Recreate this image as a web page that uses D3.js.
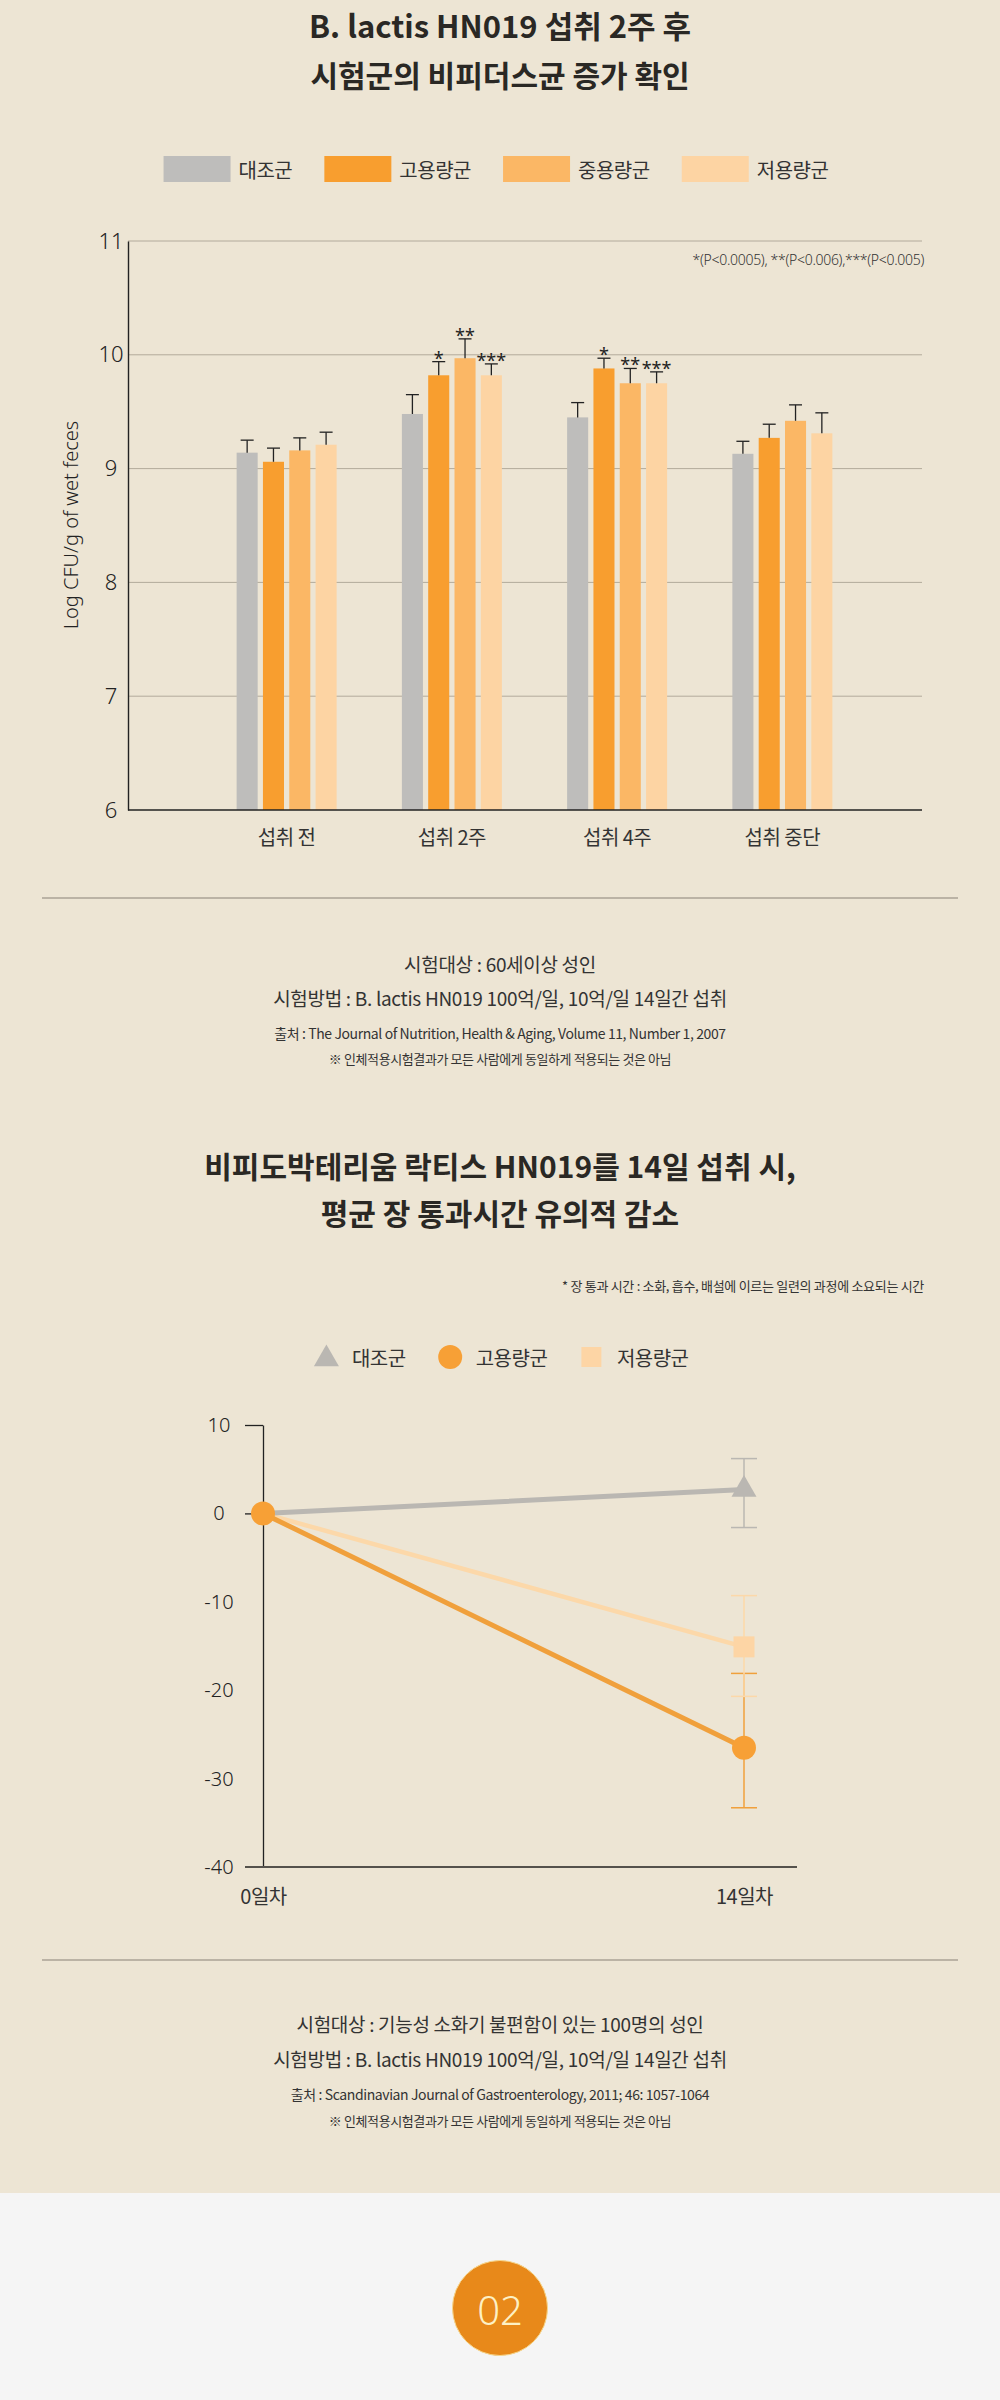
<!DOCTYPE html>
<html>
<head>
<meta charset="utf-8">
<script src="https://cdn.jsdelivr.net/npm/d3@7"></script>
<style>
  body { margin: 0; background: #f5f5f5; }
  svg { display: block; }
</style>
</head>
<body>
<div id="chart"></div>
<script>
// Bar chart data - bifidobacteria count (log CFU/g)
const barCategories = ['섭취 전', '섭취 2주', '섭취 4주', '섭취 중단'];
const barSeriesNames = ['대조군', '고용량군', '중용량군', '저용량군'];
const controlValues = [9.14, 9.48, 9.45, 9.13];
const highValues = [9.06, 9.82, 9.88, 9.27];
const midValues = [9.16, 9.97, 9.75, 9.42];
const lowValues = [9.21, 9.82, 9.75, 9.31];
const controlErr = [0.11, 0.17, 0.13, 0.11];
const highErr = [0.12, 0.12, 0.09, 0.12];
const midErr = [0.11, 0.17, 0.13, 0.14];
const lowErr = [0.11, 0.10, 0.10, 0.18];
const highMarks = ['', '*', '*', ''];
const midMarks = ['', '**', '**', ''];
const lowMarks = ['', '***', '***', ''];
const barTicks = [6, 7, 8, 9, 10, 11];

// Line chart data - change in transit time
const lineDays = [0, 14];
const lineDayLabels = ['0일차', '14일차'];
const lineSeriesNames = ['대조군', '고용량군', '저용량군'];
const controlChange = [0, 2.7];
const highDoseChange = [0, -26.5];
const lowDoseChange = [0, -15.1];
const errLow14 = [-1.6, -33.3, -20.7];
const errHigh14 = [6.2, -18.1, -9.3];
const lineTicks = [10, 0, -10, -20, -30, -40];

const KR = '"Noto Sans CJK KR", "Noto Sans", sans-serif';
const LAT = '"Noto Sans", "Noto Sans CJK KR", sans-serif';
const BG = '#ede5d4';
const barColors = ['#bebdbb', '#f89e2f', '#fbb765', '#fdd4a3'];
const lineColors = ['#bab7b2', '#f0a03c', '#fcd8a9'];
const markerColors = ['#bab7b2', '#f7a036', '#fdd5a5'];

const svg = d3.select('#chart').append('svg')
  .attr('width', 1000)
  .attr('height', 2400);

svg.append('rect').attr('width', 1000).attr('height', 2193).style('fill', BG);
svg.append('rect').attr('y', 2193).attr('width', 1000).attr('height', 207).style('fill', '#f5f5f5');

function label(parent, x, y, str, size, opts = {}) {
  return parent.append('text')
    .attr('x', x)
    .attr('y', y)
    .attr('text-anchor', opts.anchor || 'middle')
    .attr('dominant-baseline', 'central')
    .style('font-family', opts.family || KR)
    .style('font-size', size + 'px')
    .style('font-weight', opts.weight || 400)
    .style('letter-spacing', (opts.ls || 0) + 'px')
    .style('fill', opts.color || '#333')
    .text(str);
}

// lay legend items out in a row and center it
function flowLegend(g, cx) {
  let x = 0;
  g.selectAll('.item').each(function() {
    const item = d3.select(this);
    const w = item.node().getBBox().width;
    item.attr('transform', `translate(${x},0)`);
    x += w + 32;
  });
  const total = x - 32;
  g.attr('transform', `translate(${cx - total / 2},${g.attr('data-y')})`);
}

// ---------- Section 1: bar chart ----------
label(svg, 500, 24, 'B. lactis HN019 섭취 2주 후', 31, { weight: 700, color: '#2a2824' });
label(svg, 500, 73.5, '시험군의 비피더스균 증가 확인', 30, { weight: 700, color: '#2a2824' });

const barLegend = svg.append('g').attr('data-y', 169);
barSeriesNames.forEach((name, j) => {
  const item = barLegend.append('g').attr('class', 'item');
  item.append('rect').attr('x', 0).attr('y', -13).attr('width', 67).attr('height', 26).style('fill', barColors[j]);
  label(item, 75, 0, name, 20, { anchor: 'start', ls: -0.5, color: '#333' });
});
flowLegend(barLegend, 496);

const plotLeft = 128, plotRight = 922;
const y = d3.scaleLinear().domain([6, 11]).range([810, 241]);
const x0 = d3.scaleBand().domain(barCategories).range([204, 865]);
const x1 = d3.scaleBand().domain(barSeriesNames).range([-50, 50]).paddingInner(0.2);

const barG = svg.append('g');

barG.selectAll('.grid')
  .data(barTicks.filter(d => d > 6))
  .enter()
  .append('line')
  .attr('x1', plotLeft)
  .attr('x2', plotRight)
  .attr('y1', d => y(d))
  .attr('y2', d => y(d))
  .style('stroke', '#b2aa9b')
  .style('stroke-width', 1);

const yAxis = barG.append('g')
  .attr('transform', `translate(${plotLeft},0)`)
  .call(d3.axisLeft(y).tickValues(barTicks).tickFormat(d => String(d)).tickSize(0).tickSizeOuter(0));
yAxis.select('.domain').style('stroke', '#222').style('stroke-width', 1.4);
yAxis.selectAll('text')
  .attr('x', -17)
  .attr('text-anchor', 'middle')
  .style('font-family', LAT)
  .style('font-size', '22px')
  .style('font-weight', 300)
  .style('fill', '#222');

label(barG, 0, 0, 'Log CFU/g of wet feces', 20, { family: LAT, weight: 300, color: '#222' })
  .attr('transform', 'translate(70,525) rotate(-90)')
  .attr('x', 0).attr('y', 0);

const barValues = [controlValues, highValues, midValues, lowValues];
const barErrors = [controlErr, highErr, midErr, lowErr];
const barMarks = [controlValues.map(() => ''), highMarks, midMarks, lowMarks];

const groups = barCategories.map((cat, i) => ({
  cat,
  bars: barSeriesNames.map((s, j) => ({
    series: s, j, value: barValues[j][i], err: barErrors[j][i], mark: barMarks[j][i]
  }))
}));

const groupG = barG.selectAll('.bar-group')
  .data(groups)
  .enter()
  .append('g')
  .attr('class', 'bar-group')
  .attr('transform', d => `translate(${x0(d.cat) + x0.bandwidth() / 2},0)`);

const bars = groupG.selectAll('.bar')
  .data(d => d.bars)
  .enter()
  .append('g')
  .attr('class', 'bar');

bars.append('rect')
  .attr('x', d => x1(d.series))
  .attr('y', d => y(d.value))
  .attr('width', x1.bandwidth())
  .attr('height', d => y(6) - y(d.value))
  .style('fill', d => barColors[d.j]);

const cx = d => x1(d.series) + x1.bandwidth() / 2;

bars.append('line')
  .attr('x1', cx).attr('x2', cx)
  .attr('y1', d => y(d.value))
  .attr('y2', d => y(d.value + d.err))
  .style('stroke', '#222').style('stroke-width', 1.3);

bars.append('line')
  .attr('x1', d => cx(d) - 6.5).attr('x2', d => cx(d) + 6.5)
  .attr('y1', d => y(d.value + d.err))
  .attr('y2', d => y(d.value + d.err))
  .style('stroke', '#222').style('stroke-width', 1.3);

bars.filter(d => d.mark)
  .append('text')
  .attr('x', cx)
  .attr('y', d => y(d.value + d.err) + 3)
  .attr('text-anchor', 'middle')
  .style('font-family', LAT)
  .style('font-size', '18px')
  .style('fill', '#222')
  .text(d => d.mark);

barG.append('line')
  .attr('x1', plotLeft).attr('x2', plotRight)
  .attr('y1', y(6)).attr('y2', y(6))
  .style('stroke', '#222').style('stroke-width', 1.6);

const xAxis = barG.append('g')
  .attr('transform', `translate(0,${y(6)})`)
  .call(d3.axisBottom(x0).tickSize(0));
xAxis.select('.domain').remove();
xAxis.selectAll('text')
  .attr('y', 28)
  .attr('dy', '0.35em')
  .style('font-family', KR)
  .style('font-size', '20px')
  .style('letter-spacing', '-0.5px')
  .style('fill', '#333');

label(svg, 924, 259, '*(P<0.0005), **(P<0.006),***(P<0.005)', 14, { anchor: 'end', family: LAT, weight: 300, ls: -0.3, color: '#333' });

svg.append('line').attr('x1', 42).attr('x2', 958).attr('y1', 898).attr('y2', 898)
  .style('stroke', '#aaa296').style('stroke-width', 1.5);

label(svg, 500, 963, '시험대상 : 60세이상 성인', 19, { ls: -0.3 });
label(svg, 500, 997, '시험방법 : B. lactis HN019 100억/일, 10억/일 14일간 섭취', 19, { ls: -0.3 });
label(svg, 500, 1033, '출처 : The Journal of Nutrition, Health & Aging, Volume 11, Number 1, 2007', 14, { ls: -0.4 });
label(svg, 500, 1058, '※ 인체적용시험결과가 모든 사람에게 동일하게 적용되는 것은 아님', 13, { ls: -0.4 });

// ---------- Section 2: line chart ----------
label(svg, 500, 1165, '비피도박테리움 락티스 HN019를 14일 섭취 시,', 30, { weight: 700, color: '#2a2824' });
label(svg, 500, 1212, '평균 장 통과시간 유의적 감소', 30, { weight: 700, color: '#2a2824' });
label(svg, 924, 1285, '* 장 통과 시간 : 소화, 흡수, 배설에 이르는 일련의 과정에 소요되는 시간', 13, { anchor: 'end', ls: -0.3 });

const symbols = [d3.symbolTriangle, d3.symbolCircle, d3.symbolSquare];
const symbolSizes = [270, 452, 441];

const lineLegend = svg.append('g').attr('data-y', 1357);
lineSeriesNames.forEach((name, j) => {
  const item = lineLegend.append('g').attr('class', 'item');
  item.append('path')
    .attr('transform', `translate(12.5,${j === 0 ? 2 : 0})`)
    .attr('d', d3.symbol().type(symbols[j]).size(j === 2 ? 400 : symbolSizes[j]))
    .style('fill', markerColors[j]);
  label(item, 38, 0, name, 20, { anchor: 'start', ls: -0.5 });
});
flowLegend(lineLegend, 500);

const xL = d3.scaleLinear().domain([0, 14]).range([263, 744]);
const yL = d3.scaleLinear().domain([-40, 10]).range([1867, 1425]);

const lineG = svg.append('g');

const yAxisL = lineG.append('g')
  .attr('transform', `translate(${xL(0)},0)`)
  .call(d3.axisLeft(yL).tickValues(lineTicks).tickFormat(d => String(d)).tickSize(18).tickSizeOuter(0));
yAxisL.select('.domain').style('stroke', '#222').style('stroke-width', 1.3);
yAxisL.selectAll('.tick line')
  .style('stroke', '#222')
  .style('stroke-width', 1.3)
  .style('opacity', d => (d >= 0 ? 1 : 0));
yAxisL.selectAll('text')
  .attr('x', -44)
  .attr('text-anchor', 'middle')
  .style('font-family', LAT)
  .style('font-size', '20px')
  .style('font-weight', 300)
  .style('fill', '#222');

lineG.append('line')
  .attr('x1', xL(0) - 18).attr('x2', 797)
  .attr('y1', yL(-40)).attr('y2', yL(-40))
  .style('stroke', '#55524c').style('stroke-width', 2.2);

const xAxisL = lineG.append('g')
  .attr('transform', `translate(0,${yL(-40)})`)
  .call(d3.axisBottom(xL).tickValues(lineDays).tickSize(0).tickFormat((d, i) => lineDayLabels[i]));
xAxisL.select('.domain').remove();
xAxisL.selectAll('text')
  .attr('y', 30)
  .attr('dy', '0.35em')
  .style('font-family', KR)
  .style('font-size', '20px')
  .style('letter-spacing', '-0.5px')
  .style('fill', '#333');

const lineValues = [controlChange, highDoseChange, lowDoseChange];
const lineData = lineSeriesNames.map((name, j) => ({
  name, j,
  values: lineDays.map((day, i) => ({ day, value: lineValues[j][i] })),
  low: errLow14[j],
  high: errHigh14[j]
}));
const drawOrder = [2, 0, 1];
const lineWidths = [5, 5, 4.5];

const line = d3.line()
  .x(d => xL(d.day))
  .y(d => yL(d.value));

drawOrder.forEach(j => {
  const s = lineData[j];
  lineG.append('path')
    .attr('d', line(s.values))
    .style('fill', 'none')
    .style('stroke', lineColors[j])
    .style('stroke-width', lineWidths[j])
    .style('stroke-linecap', 'round');
});

// error bars at day 14
lineData.forEach(s => {
  const ex = xL(14);
  const eg = lineG.append('g').style('stroke', lineColors[s.j]).style('stroke-width', 1.5);
  eg.append('line').attr('x1', ex).attr('x2', ex).attr('y1', yL(s.low)).attr('y2', yL(s.high));
  [s.low, s.high].forEach(v => {
    eg.append('line').attr('x1', ex - 13).attr('x2', ex + 13).attr('y1', yL(v)).attr('y2', yL(v));
  });
});

// markers; at day 0 only the top (high dose) marker is visible
[0, 2, 1].forEach(j => {
  const s = lineData[j];
  lineG.selectAll(null)
    .data(s.values.filter((d, i) => i > 0 || j === 1))
    .enter()
    .append('path')
    .attr('transform', d => `translate(${xL(d.day)},${yL(d.value)})`)
    .attr('d', d3.symbol().type(symbols[j]).size(symbolSizes[j]))
    .style('fill', markerColors[j]);
});

svg.append('line').attr('x1', 42).attr('x2', 958).attr('y1', 1960).attr('y2', 1960)
  .style('stroke', '#aaa296').style('stroke-width', 1.5);

label(svg, 500, 2023, '시험대상 : 기능성 소화기 불편함이 있는 100명의 성인', 19, { ls: -0.3 });
label(svg, 500, 2058, '시험방법 : B. lactis HN019 100억/일, 10억/일 14일간 섭취', 19, { ls: -0.3 });
label(svg, 500, 2094, '출처 : Scandinavian Journal of Gastroenterology, 2011; 46: 1057-1064', 14, { ls: -0.4 });
label(svg, 500, 2120, '※ 인체적용시험결과가 모든 사람에게 동일하게 적용되는 것은 아님', 13, { ls: -0.4 });

// ---------- Section badge ----------
svg.append('circle')
  .attr('cx', 500).attr('cy', 2308).attr('r', 47.5)
  .style('fill', '#e8891a')
  .style('stroke', '#f6d78e')
  .style('stroke-width', 1);
label(svg, 500, 2309, '02', 40, { family: LAT, weight: 300, color: '#fdf0c4' });
</script>
</body>
</html>
